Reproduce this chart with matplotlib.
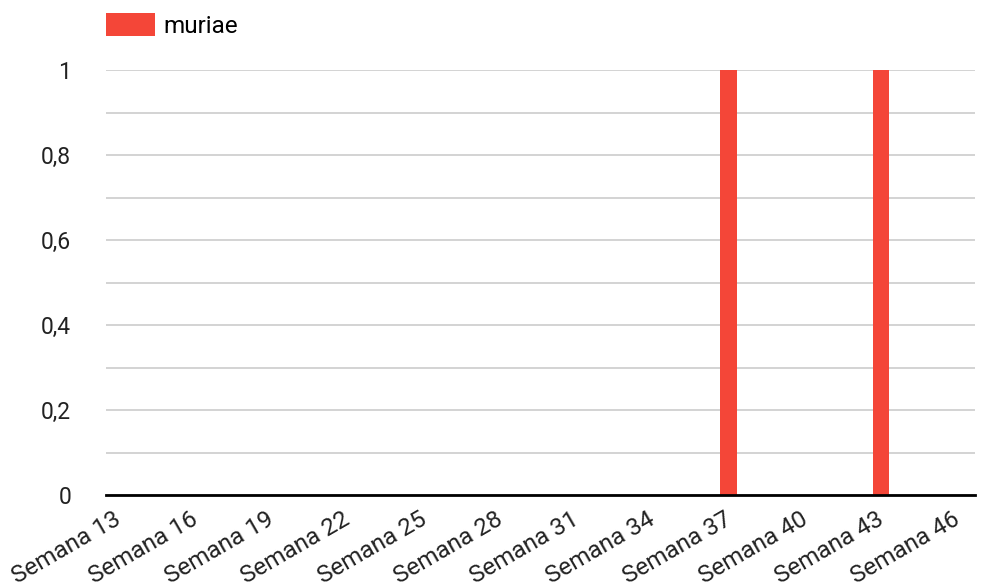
import matplotlib.pyplot as plt
from matplotlib.ticker import FixedLocator, FuncFormatter
from matplotlib.transforms import ScaledTranslation

# weekly counts, Semana 13 .. Semana 46
weeks = list(range(13, 47))
labels = [f"Semana {w}" for w in weeks]
muriae = [0] * 24 + [1] + [0] * 5 + [1] + [0] * 3

plt.rcParams['font.family'] = ['Roboto', 'DejaVu Sans']

fig = plt.figure(figsize=(9.88, 5.87), dpi=100)
ax = fig.add_axes([106 / 988, 1 - 495 / 587, (975 - 106) / 988, (495 - 70) / 587])

x = list(range(len(weeks)))
ax.bar(x, muriae, width=0.64, color='#f44638', zorder=3, label='muriae')

ax.set_xlim(-0.5, 33.7)
ax.set_ylim(0, 1)

ax.yaxis.set_major_locator(FixedLocator([i / 10 for i in range(11)]))

def fmt(v, pos):
    if pos is not None and pos % 2 == 1:
        return ''
    s = f"{v:.1f}".rstrip('0').rstrip('.')
    return s.replace('.', ',')

ax.yaxis.set_major_formatter(FuncFormatter(fmt))
ax.grid(axis='y', color='#cccccc', linewidth=1.2, zorder=0)
ax.tick_params(axis='y', length=0, pad=25, labelsize=16.5, labelcolor='#222222')

ax.set_xticks(x[::3])
ax.set_xticklabels(labels[::3], rotation=30, ha='right', rotation_mode='anchor',
                   fontsize=17.5, color='#222222')
ax.tick_params(axis='x', length=0, pad=9)
shift = ScaledTranslation(-5 / 100, 0, fig.dpi_scale_trans)
for lbl in ax.get_xticklabels():
    lbl.set_transform(lbl.get_transform() + shift)

for side in ['top', 'right', 'left']:
    ax.spines[side].set_visible(False)
ax.spines['bottom'].set_linewidth(2)
ax.spines['bottom'].set_color('#000000')
ax.spines['bottom'].set_zorder(4)

leg = fig.legend(loc='upper left', bbox_to_anchor=(106 / 988, 1 - 13 / 587), frameon=False,
                 fontsize=17.5, handlelength=2.0, handleheight=1.1, handletextpad=0.35,
                 borderpad=0, borderaxespad=0)

fig.savefig('out.png', dpi=100)
